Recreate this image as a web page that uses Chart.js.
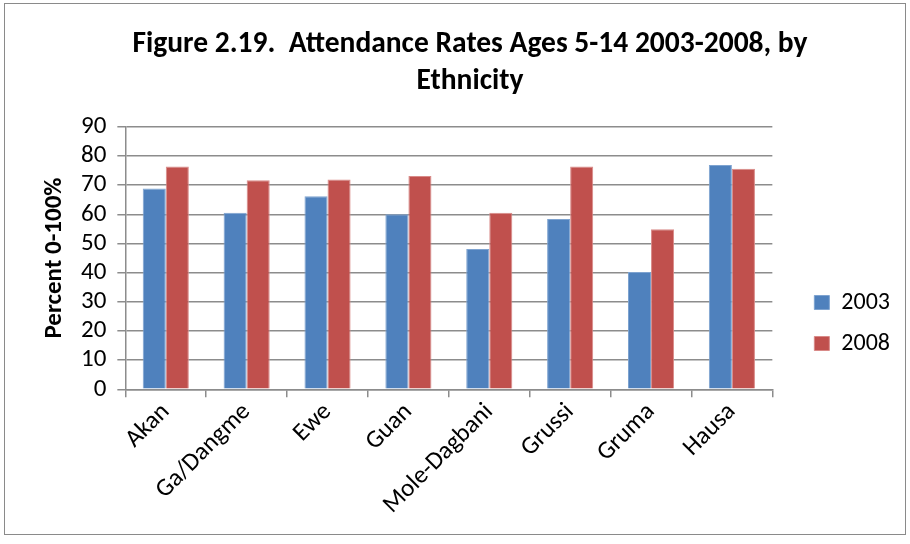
<!DOCTYPE html>
<html>
<head>
<meta charset="utf-8">
<script src="https://cdn.jsdelivr.net/npm/chart.js@4.4.0/dist/chart.umd.min.js"></script>
<style>
    html, body { margin: 0; padding: 0; background: #fff; }
    #wrap { position: relative; width: 910px; height: 544px; }
    #frame { position: absolute; left: 4px; top: 3px; width: 900px; height: 530px; border: 1px solid #8a8a8a; pointer-events: none; }
</style>
</head>
<body>
<div id="wrap">
    <canvas id="chart" width="910" height="544"></canvas>
    <div id="frame"></div>
</div>
<script>
// ── Data ──────────────────────────
const categories = ['Akan', 'Ga/Dangme', 'Ewe', 'Guan', 'Mole-Dagbani', 'Grussi', 'Gruma', 'Hausa'];
const rates2003 = [68.8, 60.5, 66.2, 60.0, 48.1, 58.4, 40.2, 76.9];
const rates2008 = [76.4, 71.7, 71.9, 73.1, 60.5, 76.4, 54.9, 75.6];
const yTicks = [0, 10, 20, 30, 40, 50, 60, 70, 80, 90];

const FONT = 'Carlito, "Liberation Sans Narrow", Calibri, "Liberation Sans", sans-serif';
const GRID = '#8c8c8c';
const LEGEND_MID = 323; // legend sits lower than the plot centre in the original

// nudges the legend block down after layout
const legendShift = {
    id: 'legendShift',
    afterLayout(chart) {
        const l = chart.legend;
        if (!l) return;
        const d = LEGEND_MID - (l.top + l.bottom) / 2;
        l.top += d;
        l.bottom += d;
    }
};

const ctx = document.getElementById('chart').getContext('2d');

new Chart(ctx, {
    type: 'bar',
    data: {
        labels: categories,
        datasets: [
            {
                label: '2003',
                data: rates2003,
                backgroundColor: '#4F81BD',
                borderColor: '#7EA3D0',
                borderWidth: 1,
                barPercentage: 1,
                categoryPercentage: 0.57
            },
            {
                label: '2008',
                data: rates2008,
                backgroundColor: '#C0504D',
                borderColor: '#D98A88',
                borderWidth: 1,
                barPercentage: 1,
                categoryPercentage: 0.57
            }
        ]
    },
    options: {
        responsive: false,
        animation: false,
        events: [],
        layout: { padding: { left: 40, right: 10, top: 10, bottom: 24 } },
        plugins: {
            title: {
                display: true,
                text: ['Figure 2.19.  Attendance Rates Ages 5-14 2003-2008, by', 'Ethnicity'],
                color: '#000',
                font: { family: FONT, size: 29.5, weight: 'bold', lineHeight: 1.25 },
                padding: { top: 16, bottom: 27 }
            },
            legend: {
                position: 'right',
                align: 'center',
                labels: {
                    color: '#000',
                    boxWidth: 15,
                    boxHeight: 14,
                    padding: 17,
                    font: { family: FONT, size: 24 }
                }
            },
            tooltip: { enabled: false }
        },
        scales: {
            x: {
                grid: {
                    offset: true,
                    drawOnChartArea: false,
                    drawTicks: true,
                    tickLength: 8,
                    color: GRID,
                    lineWidth: 1.5
                },
                border: { color: GRID, width: 1.5 },
                ticks: {
                    color: '#000',
                    minRotation: 45,
                    maxRotation: 45,
                    padding: 0,
                    autoSkip: false,
                    font: { family: FONT, size: 25 }
                }
            },
            y: {
                min: 0,
                max: 90,
                afterBuildTicks: axis => { axis.ticks = yTicks.map(v => ({ value: v })); },
                grid: {
                    color: GRID,
                    lineWidth: 1.5,
                    drawTicks: true,
                    tickLength: 8
                },
                border: { color: GRID, width: 1.5 },
                ticks: {
                    color: '#000',
                    padding: 11,
                    autoSkip: false,
                    font: { family: FONT, size: 25 }
                },
                title: {
                    display: true,
                    text: 'Percent 0-100%',
                    color: '#000',
                    font: { family: FONT, size: 25, weight: 'bold' },
                    padding: { top: 0, bottom: 0 }
                }
            },
            // empty right axis, only keeps the gap between plot and legend
            gap: {
                position: 'right',
                min: 0,
                max: 90,
                grid: { display: false },
                border: { display: false },
                ticks: { display: false },
                afterFit: axis => { axis.width = 25; }
            }
        }
    },
    plugins: [legendShift]
});
</script>
</body>
</html>
